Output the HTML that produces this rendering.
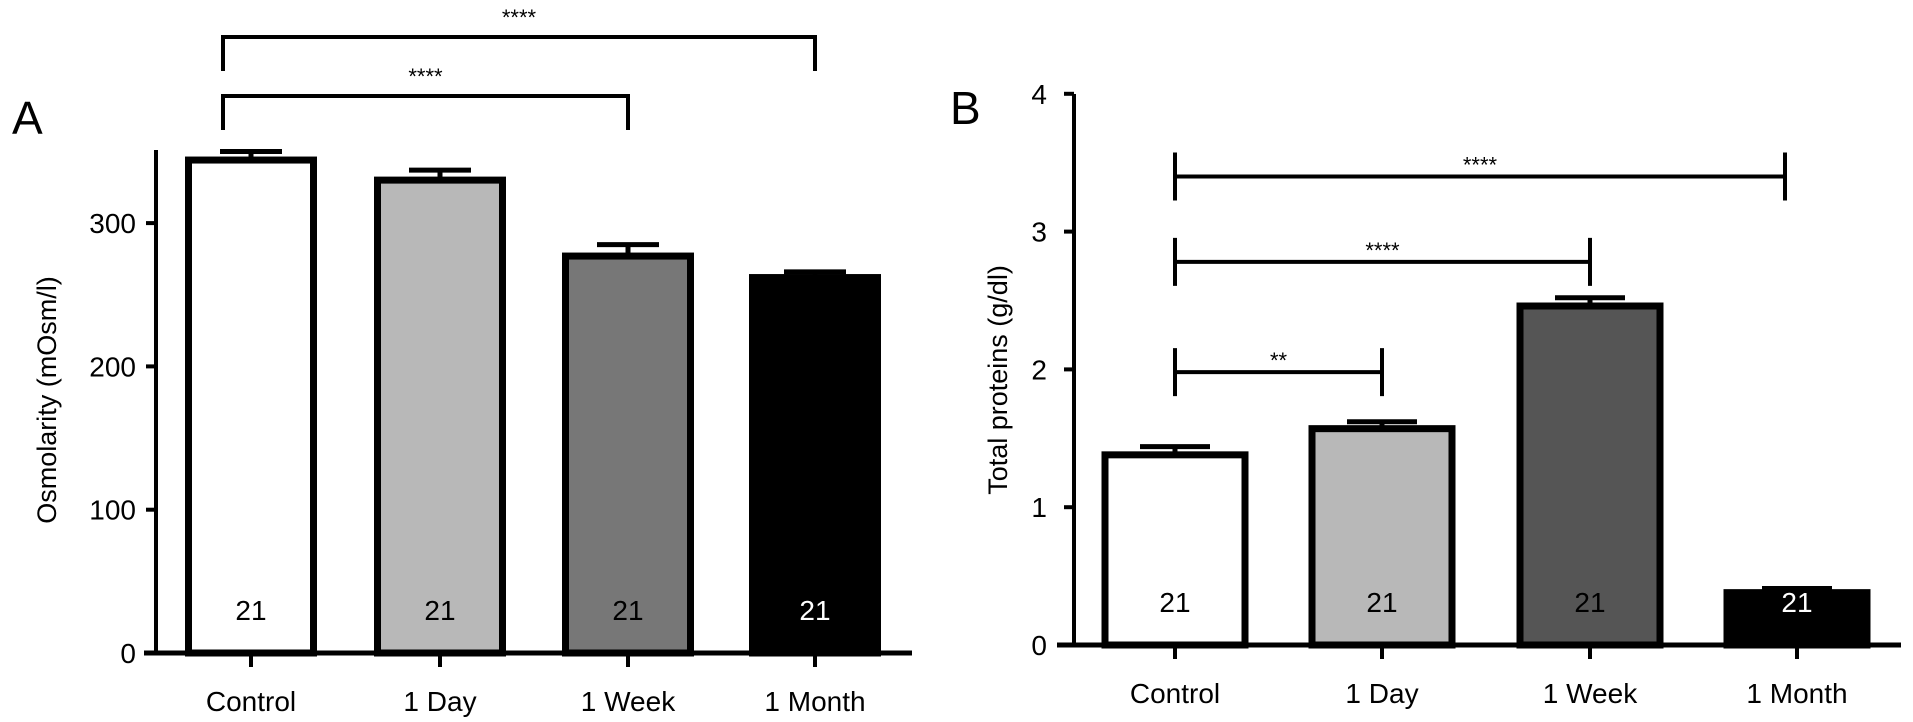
<!DOCTYPE html>
<html><head><meta charset="utf-8"><style>
html,body{margin:0;padding:0;background:#fff;}
svg{display:block;font-family:"Liberation Sans",Arial,sans-serif;}
</style></head><body>
<svg id="chart" width="1913" height="722" viewBox="0 0 1913 722" xmlns="http://www.w3.org/2000/svg">
<text x="12" y="134" font-size="46">A</text>
<text x="950" y="124" font-size="46">B</text>
<text transform="translate(56,400) rotate(-90)" text-anchor="middle" font-size="27">Osmolarity (mOsm/l)</text>
<text transform="translate(1007,380) rotate(-90)" text-anchor="middle" font-size="27">Total proteins (g/dl)</text>
</svg>
<script>
const categories = ["Control","1 Day","1 Week","1 Month"];
const nLabels = ["21","21","21","21"];
const osmValues = [344, 330, 277, 262];
const osmErrors = [6, 7, 8, 4];
const osmTicks = [0,100,200,300];
const protValues = [1.38, 1.57, 2.46, 0.38];
const protErrors = [0.06, 0.05, 0.06, 0.03];
const protTicks = [0,1,2,3,4];
const osmSig = [{from:0,to:2,label:"****"},{from:0,to:3,label:"****"}];
const protSig = [{from:0,to:1,y:1.98,label:"**"},{from:0,to:2,y:2.78,label:"****"},{from:0,to:3,y:3.4,label:"****"}];

const svg = document.getElementById('chart');
const NS = "http://www.w3.org/2000/svg";
function mk(tag, attrs){const e=document.createElementNS(NS,tag);for(const k in attrs)e.setAttribute(k,attrs[k]);svg.appendChild(e);return e;}

function panel(cfg){
  const y = v => cfg.y0 - v*cfg.scale;
  const x = i => cfg.centers[i];
  let ax = mk('line',{x1:cfg.axisX,x2:cfg.axisX,y1:cfg.axisTop,y2:cfg.y0+2,stroke:'#000','stroke-width':4});
  
  
  cfg.ticks.forEach(t=>{
    let tl = mk('line',{x1:cfg.axisX-10,x2:cfg.axisX,y1:y(t),y2:y(t),stroke:'#000','stroke-width':4});
    
    
    let tx = mk('text',{x:cfg.labelRight,y:y(t)+10,'text-anchor':'end','font-size':28});
    tx.textContent = t;
    
    
  });
  cfg.values.forEach((v,i)=>{
    const w = cfg.barW, bx = x(i)-w/2;
    let eb = mk('line',{x1:x(i)-cfg.capW/2,x2:x(i)+cfg.capW/2,y1:y(v+cfg.errors[i]),y2:y(v+cfg.errors[i]),stroke:'#000','stroke-width':5});
    
    
    let ev = mk('line',{x1:x(i),x2:x(i),y1:y(v+cfg.errors[i]),y2:y(v),stroke:'#000','stroke-width':5});
    
    
    let r = mk('rect',{x:bx,y:y(v),width:w,height:cfg.y0-y(v),fill:cfg.colors[i],stroke:'#000','stroke-width':7});
    
    
    let n = mk('text',{x:x(i),y:cfg.nY,'text-anchor':'middle','font-size':28,fill:i===3?'#fff':'#000'});
    n.textContent = nLabels[i];
    
    
    let tk = mk('line',{x1:x(i),x2:x(i),y1:cfg.y0,y2:cfg.y0+14,stroke:'#000','stroke-width':4});
    
    
    let cl = mk('text',{x:x(i),y:cfg.y0+58,'text-anchor':'middle','font-size':28});
    cl.textContent = categories[i];
    
    
  });
  let bl = mk('line',{x1:cfg.baseL,x2:cfg.baseR,y1:cfg.y0,y2:cfg.y0,stroke:'#000','stroke-width':5});
  
  
}

panel({p:'osm',values:osmValues,errors:osmErrors,ticks:osmTicks,y0:653,scale:1.433,axisX:156,axisTop:150,labelRight:136,
  centers:[251,440,628,815],barW:125,capW:62,colors:['#fff','#b8b8b8','#777','#000'],nY:620,baseL:144,baseR:912});
panel({p:'prot',values:protValues,errors:protErrors,ticks:protTicks,y0:645,scale:137.8,axisX:1074,axisTop:94,labelRight:1047,
  centers:[1175,1382,1590,1797],barW:140,capW:70,colors:['#fff','#b8b8b8','#555','#000'],nY:612,baseL:1057,baseR:1901});

const aCent=[251,440,628,815];
const aLevels=[96,37];
osmSig.forEach((s,k)=>{
  const yy=aLevels[k], x1=aCent[s.from]-28, x2=aCent[s.to];
  let p = mk('path',{d:`M${x1} ${yy+34} V${yy} H${x2} V${yy+34}`,fill:'none',stroke:'#000','stroke-width':4});
  
  
  let t = mk('text',{x:(x1+x2)/2,y:yy-12,'text-anchor':'middle','font-size':22});
  t.textContent=s.label;
  
  
});
const bCent=[1175,1382,1590,1785];
protSig.forEach(s=>{
  const yy=645-s.y*137.8, x1=bCent[s.from], x2=bCent[s.to];
  let p = mk('path',{d:`M${x1} ${yy-24} V${yy+24} M${x1} ${yy} H${x2} M${x2} ${yy-24} V${yy+24}`,fill:'none',stroke:'#000','stroke-width':4});
  
  
  let t = mk('text',{x:(x1+x2)/2,y:yy-4,'text-anchor':'middle','font-size':22});
  t.textContent=s.label;
  
  
});
</script>
</body></html>
